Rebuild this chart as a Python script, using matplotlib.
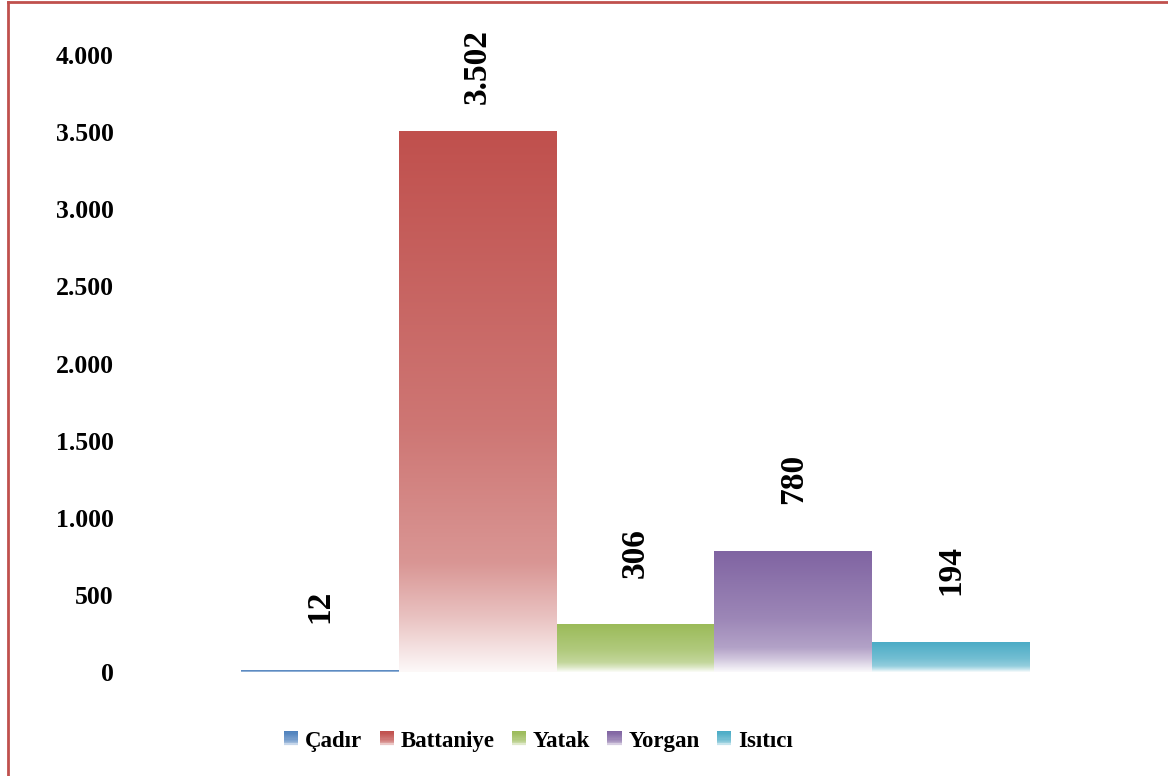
import matplotlib
matplotlib.use("Agg")
import matplotlib.pyplot as plt
from matplotlib.legend_handler import HandlerBase
from matplotlib.patches import Rectangle
from matplotlib.lines import Line2D
import numpy as np

# Veriler
categories = ["Çadır", "Battaniye", "Yatak", "Yorgan", "Isıtıcı"]
values = [12, 3502, 306, 780, 194]
colors = ["#4F81BD", "#C0504D", "#9BBB59", "#8064A2", "#4BACC6"]
yticks = [0, 500, 1000, 1500, 2000, 2500, 3000, 3500, 4000]

plt.rcParams["font.family"] = ["Liberation Serif", "DejaVu Serif"]
plt.rcParams["font.weight"] = "bold"


def fmt(v):
    return f"{v:,.0f}".replace(",", ".")


def gradient(color, n=200):
    # ustten alta dogru renkten beyaza gecis
    rgb = np.array(matplotlib.colors.to_rgb(color))
    t = np.linspace(0, 1, n)
    w = np.interp(t, [0.0, 0.55, 0.8, 0.9, 1.0], [0.0, 0.22, 0.4, 0.65, 0.96])
    return rgb[None, :] * (1 - w[:, None]) + w[:, None]


class GradientHandler(HandlerBase):
    def __init__(self, color):
        super().__init__()
        self.color = color

    def create_artists(self, legend, orig_handle, xdescent, ydescent,
                       width, height, fontsize, trans):
        cols = gradient(self.color, 12)
        side = height * 1.0
        y0 = -ydescent + (height - side) / 2
        arts = []
        for i, c in enumerate(cols):
            h = side / len(cols)
            r = Rectangle((-xdescent, y0 + side - (i + 1) * h), width, h * 1.05,
                          facecolor=c, edgecolor="none", transform=trans)
            arts.append(r)
        return arts


fig = plt.figure(figsize=(11.68, 7.76), dpi=100)
ax = fig.add_axes([0.1387, 0.134, 0.8108, 0.795])

x = np.arange(len(values))
label_pad = [34, 20, 34, 34, 34]
for i, (v, c) in enumerate(zip(values, colors)):
    ax.imshow(gradient(c)[:, None, :], extent=(i - 0.5, i + 0.5, 0, v),
              aspect="auto", interpolation="bilinear", zorder=2)
    ax.annotate(fmt(v), (i, v), xytext=(0, label_pad[i]), textcoords="offset points",
                rotation=90, ha="center", va="bottom", fontsize=24, fontweight="bold")

ax.set_xlim(-1, 5)
ax.set_ylim(0, 4000)
ax.set_yticks(yticks)
ax.set_yticklabels([fmt(t) for t in yticks], fontsize=18.5, fontweight="bold")
ax.set_xticks([])
ax.tick_params(axis="y", length=0, pad=35)
for s in ax.spines.values():
    s.set_visible(False)

handles = [Line2D([], [], label=cat) for cat in categories]
leg = fig.legend(handles=handles, labels=categories, loc="center",
                 bbox_to_anchor=(0.461, 0.045), ncol=5, frameon=False,
                 handler_map={h: GradientHandler(c) for h, c in zip(handles, colors)},
                 prop={"family": "Liberation Serif", "weight": "bold", "size": 16.5},
                 handlelength=0.62, handleheight=0.62, handletextpad=0.3,
                 columnspacing=0.75)

# cerceve (ust ve sol kenar)
fig.add_artist(Line2D([8 / 1168, 8 / 1168], [0, 1 - 2 / 776], color="#C0504D", lw=2,
                      transform=fig.transFigure))
fig.add_artist(Line2D([8 / 1168, 1], [1 - 2 / 776, 1 - 2 / 776], color="#C0504D", lw=2,
                      transform=fig.transFigure))

fig.savefig("out.png", dpi=100)
